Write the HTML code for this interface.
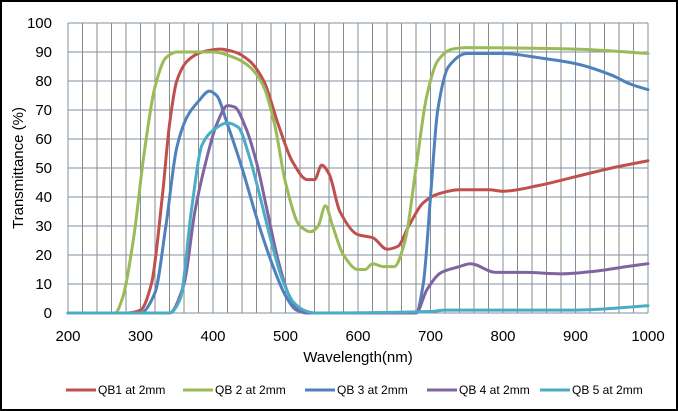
<!DOCTYPE html>
<html><head><style>
body{margin:0;background:#fff;}
svg{display:block;font-family:"Liberation Sans",sans-serif;}
</style></head><body>
<svg id="s" width="678" height="411" xmlns="http://www.w3.org/2000/svg">
<rect x="1" y="1" width="676" height="409" fill="#fff" stroke="#000" stroke-width="2"/>
<g id="grid"></g>
<g id="lab" font-size="15" fill="#000"></g>
<text x="358" y="362" font-size="15" text-anchor="middle">Wavelength(nm)</text>
<text transform="translate(23,168) rotate(-90)" font-size="15" text-anchor="middle">Transmittance (%)</text>
<g id="series" fill="none" stroke-width="3" stroke-linejoin="round" stroke-linecap="round"></g>
<g id="leg" font-size="12"></g>
</svg>
<script>
const NS="http://www.w3.org/2000/svg";
const X=w=>68+(w-200)*0.725, Y=t=>313-t*2.9;
function el(p,t,a,txt){const e=document.createElementNS(NS,t);for(const k in a)e.setAttribute(k,a[k]);if(txt!==undefined)e.textContent=txt;document.getElementById(p).appendChild(e);}
for(let w=200;w<=1000;w+=20)el("grid","line",{x1:X(w),x2:X(w),y1:Y(0),y2:Y(100),stroke:"#8a8a8a","stroke-width":1});
for(let t=0;t<=100;t+=10)el("grid","line",{x1:X(200),x2:X(1000),y1:Y(t),y2:Y(t),stroke:"#7f8fa0","stroke-width":1});
for(let w=200;w<=1000;w+=100)el("grid","line",{x1:X(w),x2:X(w),y1:Y(0),y2:Y(100),stroke:"#7f8fa0","stroke-width":1});
for(let t=0;t<=100;t+=10)el("lab","text",{x:52,y:Y(t)+5,"text-anchor":"end"},t);
for(let w=200;w<=1000;w+=100)el("lab","text",{x:X(w),y:341,"text-anchor":"middle"},w);
const S=[
["#C0504D",[[200,0],[280,0],[300,1],[315,10],[330,40],[340,65],[350,80],[365,87],[385,90],[410,91],[430,90],[450,87],[470,80],[490,65],[510,52],[530,46],[540,46],[550,51],[560,48],[575,35],[600,27],[620,26],[640,22],[655,23],[670,30],[690,38],[710,41],[740,42.5],[780,42.5],[800,42],[850,44],[900,47],[950,50],[1000,52.5]]],
["#9BBB59",[[200,0],[265,0],[275,5],[290,25],[305,55],[320,78],[335,88],[350,90],[400,90],[430,88],[450,85],[470,78],[485,65],[500,45],[520,30],[535,28],[545,30],[555,37],[565,30],[580,20],[600,15],[610,15],[620,17],[635,16],[650,16],[665,25],[680,50],[695,75],[710,87],[730,91],[750,91.5],[900,91],[1000,89.5]]],
["#4F81BD",[[200,0],[300,0],[320,7],[335,30],[350,57],[365,68],[380,73],[395,76.5],[405,75],[420,65],[440,50],[460,33],[480,18],[500,6],[515,1],[530,0],[680,0],[690,10],[700,40],[710,70],[725,85],[750,89.5],[800,89.5],[850,88],[900,86],[950,82],[975,79],[1000,77]]],
["#8064A2",[[200,0],[340,0],[360,10],[375,35],[390,52],[405,65],[420,71.5],[430,71],[445,64],[460,52],[475,35],[490,18],[505,6],[520,1],[540,0],[680,0],[695,8],[715,14],[740,16],[755,17],[790,14],[830,14],[880,13.5],[930,14.5],[970,16],[1000,17]]],
["#4BACC6",[[200,0],[340,0],[355,5],[370,35],[385,58],[400,63],[420,65.5],[435,64],[450,54],[465,40],[480,25],[495,12],[510,4],[525,1],[540,0],[700,0.5],[720,1],[800,1],[900,1],[1000,2.5]]]
];
for(const [c,pts] of S){
 const x=pts.map(p=>X(p[0])),y=pts.map(p=>Y(p[1])),n=x.length;
 const d=[],m=new Array(n);
 for(let i=0;i<n-1;i++)d.push((y[i+1]-y[i])/(x[i+1]-x[i]));
 m[0]=d[0];m[n-1]=d[n-2];
 for(let i=1;i<n-1;i++){ if(d[i-1]*d[i]<=0)m[i]=0; else {const h0=x[i]-x[i-1],h1=x[i+1]-x[i];const w1=2*h1+h0,w2=h1+2*h0;m[i]=(w1+w2)/(w1/d[i-1]+w2/d[i]);} }
 let s="M"+x[0]+","+y[0];
 for(let i=0;i<n-1;i++){const h=(x[i+1]-x[i])/3;s+=`C${x[i]+h},${y[i]+m[i]*h} ${x[i+1]-h},${y[i+1]-m[i+1]*h} ${x[i+1]},${y[i+1]}`;}
 el("series","path",{d:s,stroke:c});
}
const L=[["#C0504D","QB1 at 2mm",66],["#9BBB59","QB 2 at 2mm",183],["#4F81BD","QB 3 at 2mm",305],["#8064A2","QB 4 at 2mm",427],["#4BACC6","QB 5 at 2mm",540]];
for(const [c,t,x] of L){el("leg","line",{x1:x,x2:x+30,y1:390,y2:390,stroke:c,"stroke-width":3});el("leg","text",{x:x+32,y:394},t);}
</script>
</body></html>
